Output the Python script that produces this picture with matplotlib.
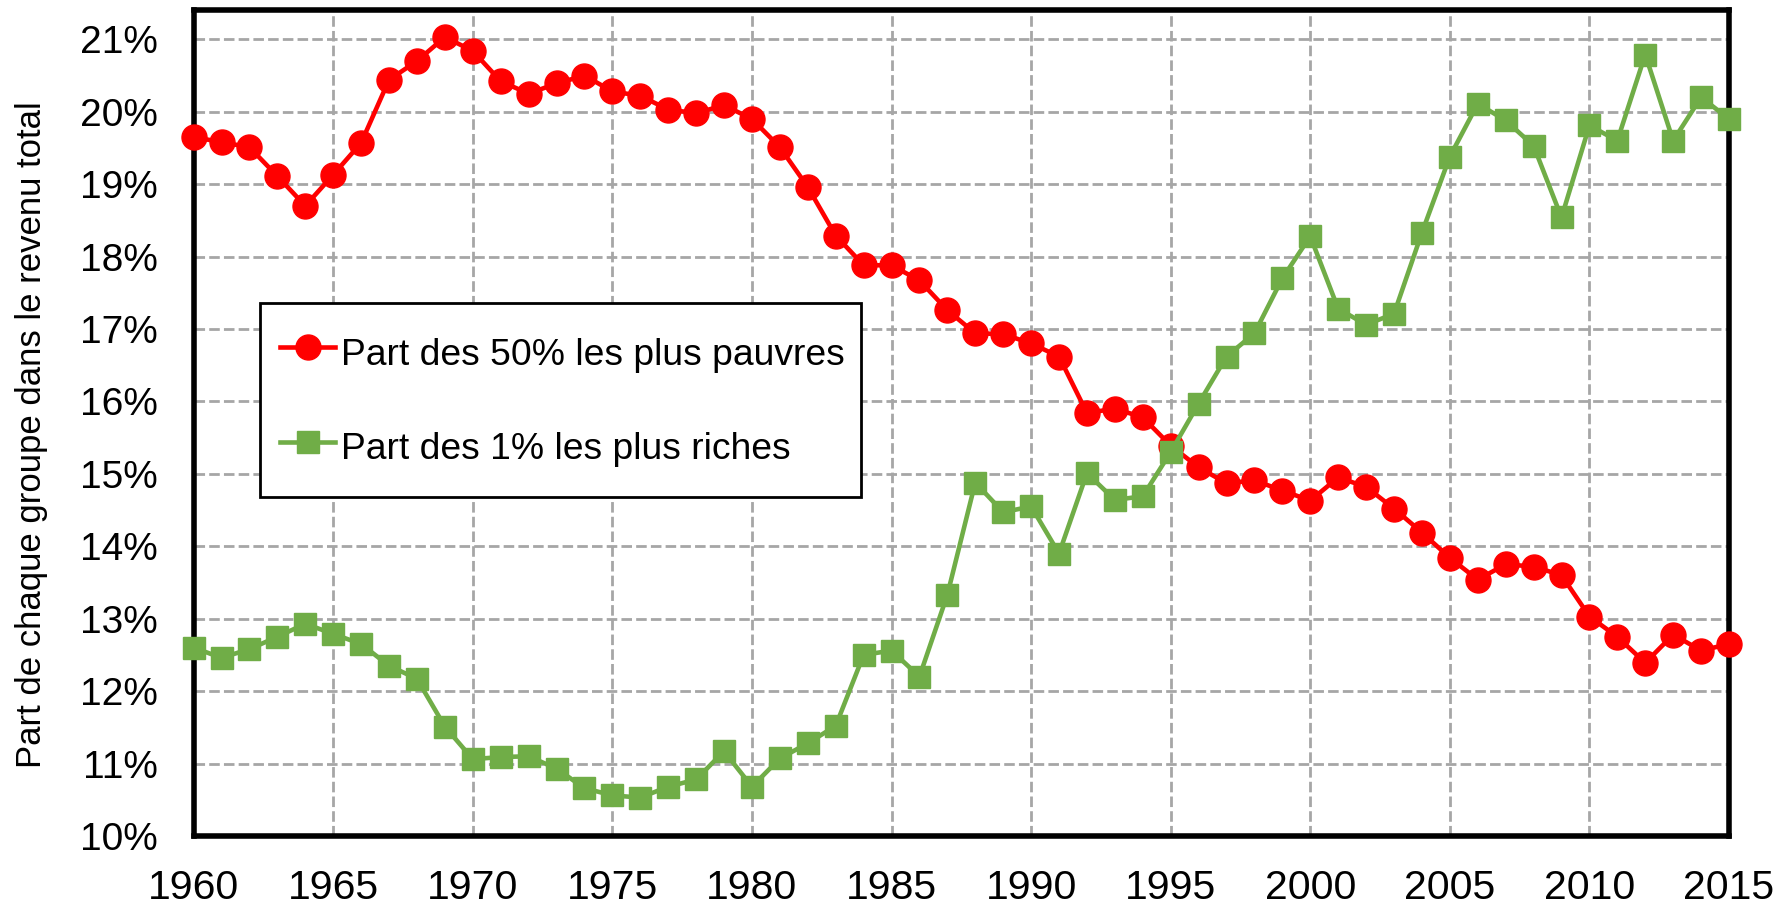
import matplotlib
matplotlib.use("Agg")
import matplotlib.pyplot as plt
from matplotlib.patches import Rectangle
from matplotlib.ticker import FuncFormatter

plt.rcParams['font.family'] = ['Liberation Sans', 'DejaVu Sans']

# data (share of total income, %)
years = list(range(1960, 2016))

bottom50 = [
    19.65, 19.58, 19.51, 19.11, 18.70, 19.13, 19.57, 20.44, 20.70, 21.03,
    20.84, 20.42, 20.25, 20.39, 20.50, 20.28, 20.22, 20.03, 19.98, 20.09,
    19.90, 19.51, 18.96, 18.29, 17.88, 17.88, 17.67, 17.26, 16.94, 16.93,
    16.80, 16.62, 15.84, 15.90, 15.78, 15.39, 15.09, 14.87, 14.91, 14.77,
    14.63, 14.95, 14.82, 14.52, 14.19, 13.84, 13.54, 13.75, 13.72, 13.60,
    13.03, 12.75, 12.39, 12.78, 12.56, 12.65,
]

top1 = [
    12.60, 12.46, 12.58, 12.75, 12.93, 12.79, 12.65, 12.35, 12.17, 11.51,
    11.06, 11.09, 11.10, 10.93, 10.66, 10.56, 10.53, 10.68, 10.78, 11.17,
    10.68, 11.07, 11.28, 11.52, 12.50, 12.56, 12.20, 13.33, 14.88, 14.47,
    14.55, 13.90, 15.01, 14.64, 14.69, 15.30, 15.97, 16.62, 16.94, 17.70,
    18.28, 17.28, 17.06, 17.21, 18.33, 19.38, 20.11, 19.88, 19.53, 18.54,
    19.81, 19.60, 20.79, 19.60, 20.20, 19.90,
]

label_bottom = "Part des 50% les plus pauvres"
label_top = "Part des 1% les plus riches"
y_label = "Part de chaque groupe dans le revenu total"

x_ticks = list(range(1960, 2016, 5))
y_ticks = list(range(10, 22))

RED = '#FF0000'
GREEN = '#70AD47'

fig = plt.figure(figsize=(17.88, 9.06), dpi=100)
ax = fig.add_axes([0.1083, 0.0773, 0.8587, 0.9113])

ax.plot(years, bottom50, color=RED, linewidth=3.3, marker='o', markersize=18,
        label=label_bottom, clip_on=False, zorder=4)
ax.plot(years, top1, color=GREEN, linewidth=3.3, marker='s', markersize=16,
        label=label_top, clip_on=False, zorder=4)

ax.set_xlim(1960, 2015)
ax.set_ylim(10, 21.4)
ax.set_xticks(x_ticks)
ax.set_yticks(y_ticks)
ax.yaxis.set_major_formatter(FuncFormatter(lambda v, pos: f"{v:.0f}%"))

ax.tick_params(axis='x', length=0, pad=24, labelsize=29.5)
ax.tick_params(axis='y', length=0, pad=26, labelsize=28)

# dashed grey grid
ax.grid(True, color='#A6A6A6', linewidth=2, linestyle=(0, (3.8, 1.5)))
ax.set_axisbelow(True)

for spine in ax.spines.values():
    spine.set_linewidth(4)
    spine.set_color('black')

fig.text(0.0178, 0.520, y_label, rotation=90, va='center', ha='center',
         fontsize=25)

# legend frame drawn by hand so its size matches the original box
frame = Rectangle((0.043, 0.410), 0.3915, 0.235, transform=ax.transAxes,
                  facecolor='white', edgecolor='black', linewidth=2,
                  zorder=6)
ax.add_patch(frame)

leg = ax.legend(loc='center left', bbox_to_anchor=(0.056, 0.5285),
                borderaxespad=0, borderpad=0, fontsize=26.8, frameon=False,
                labelspacing=1.32, handlelength=1.5, handleheight=1.5,
                handletextpad=0.15)
leg.set_zorder(7)

fig.savefig("out.png", dpi=100)
